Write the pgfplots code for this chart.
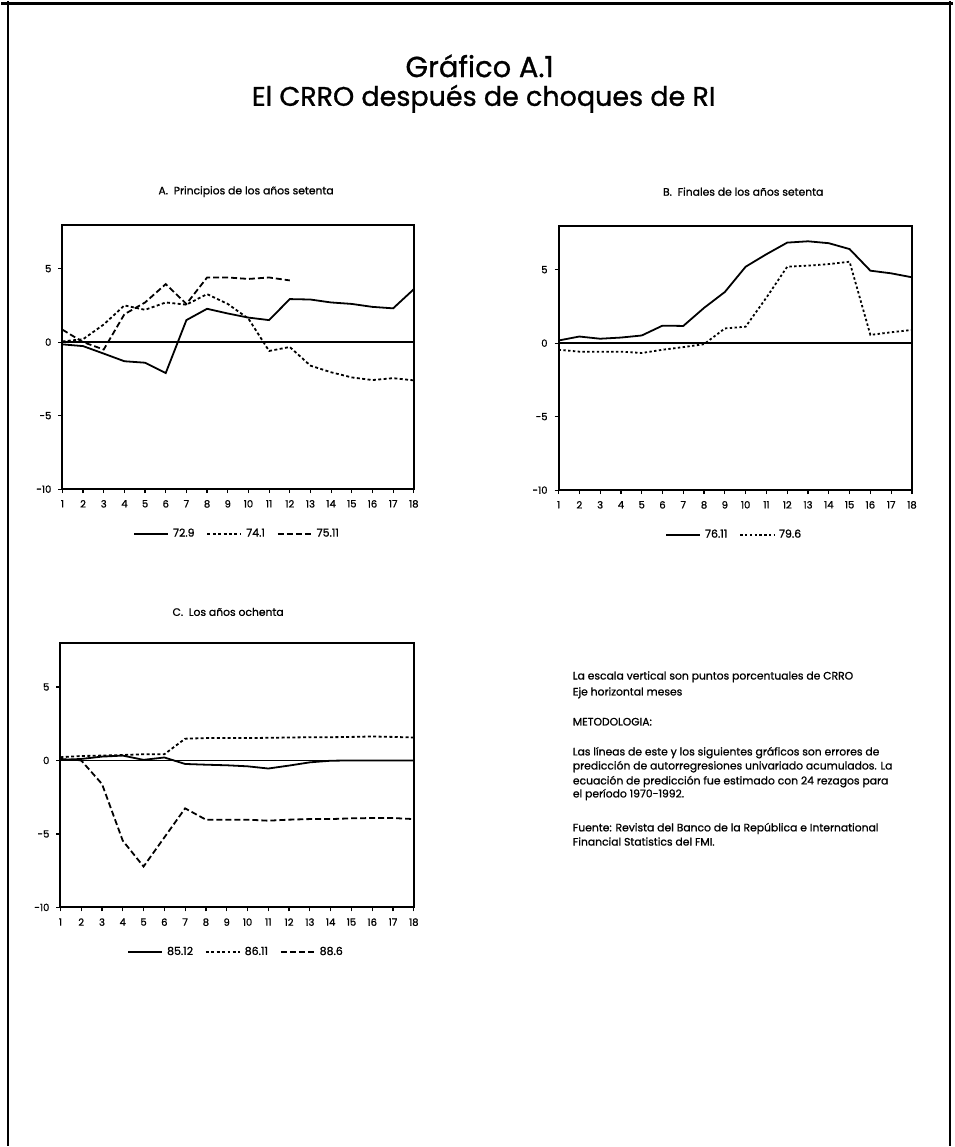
\documentclass[border=0pt]{standalone}
\usepackage{fontspec}
\setmainfont{Poppins}[UprightFeatures={FakeBold=1}]
\usepackage{pgfplots}
\pgfplotsset{compat=1.18}

\pgfplotsset{
  panel/.style={
    scale only axis, width=176bp, height=132.5bp,
    xmin=1, xmax=18, ymin=-10, ymax=8,
    xtick={1,...,18}, ytick={-10,-5,0,5},
    axis line style={line width=1bp},
    tick style={black, line width=0.6bp},
    major tick length=2bp, tick align=outside,
    xtick pos=bottom, ytick pos=left,
    ticklabel style={font=\fontsize{5bp}{6bp}\selectfont},
    /pgf/number format/assume math mode=true,
    every axis plot/.append style={line width=0.9bp, black},
    legend style={draw=none, fill=none, at={(0.5,-0.17)}, anchor=center,
      legend columns=-1, font=\fontsize{5.5bp}{6.5bp}\selectfont,
      /tikz/every even column/.append style={column sep=4bp}},
    legend image code/.code={\draw[#1] (0bp,0bp) -- (17bp,0bp);},
  },
  shortdash/.style={dash pattern=on 1.5bp off 1.2bp},
  longdash/.style={dash pattern=on 3bp off 1.5bp},
  dotted79/.style={dash pattern=on 1.2bp off 1.2bp},
}

\begin{document}
\begin{tikzpicture}[x=0.5bp,y=0.5bp]
\path (0,0) rectangle (953,1147);
\draw[line width=1.5bp] (0,1144) -- (953,1144);
\draw[line width=1bp] (7,1147) -- (7,0);
\draw[line width=1bp] (950,1147) -- (950,0);

\node[font=\fontsize{14.5bp}{16bp}\selectfont] at (479,1082) {Gráfico A.1};
\node[font=\fontsize{13.5bp}{16bp}\selectfont] at (483,1049) {El CRRO después de choques de RI};

\node[font=\fontsize{5.4bp}{6bp}\selectfont] at (245,956) {A.\ \ Principios de los años setenta};
\node[font=\fontsize{5.4bp}{6bp}\selectfont] at (743,956) {B.\ \ Finales de los años setenta};
\node[font=\fontsize{5.4bp}{6bp}\selectfont] at (227,535) {C.\ \ Los años ochenta};

% panel A
\begin{axis}[panel, at={(30.5bp,329bp)}, anchor=south west]
\addplot[forget plot, solid, line width=0.7bp] coordinates {(1,0) (18,0)};
\addplot[solid] coordinates {(1,-0.15) (2,-0.27) (3,-0.78) (4,-1.3) (5,-1.4) (6,-2.1)
  (7,1.5) (8,2.27) (9,1.95) (10,1.67) (11,1.5) (12,2.93) (13,2.9) (14,2.7)
  (15,2.6) (16,2.4) (17,2.3) (18,3.6)};
\addplot[shortdash] coordinates {(1,0.05) (2,0.2) (3,1.2) (4,2.5) (5,2.2) (6,2.7)
  (7,2.55) (8,3.27) (9,2.6) (10,1.6) (11,-0.6) (12,-0.33) (13,-1.6) (14,-2.05)
  (15,-2.4) (16,-2.58) (17,-2.45) (18,-2.6)};
\addplot[longdash] coordinates {(1,0.85) (2,0) (3,-0.5) (4,1.9) (5,2.7) (6,3.95)
  (7,2.6) (8,4.4) (9,4.4) (10,4.3) (11,4.4) (12,4.2)};
\legend{72.9, 74.1, 75.11}
\end{axis}

% panel B
\begin{axis}[panel, width=177bp, at={(279bp,328.5bp)}, anchor=south west]
\addplot[forget plot, solid, line width=0.7bp] coordinates {(1,0) (18,0)};
\addplot[solid] coordinates {(1,0.18) (2,0.45) (3,0.3) (4,0.38) (5,0.52) (6,1.19)
  (7,1.17) (8,2.4) (9,3.48) (10,5.2) (11,6.05) (12,6.84) (13,6.93) (14,6.8)
  (15,6.4) (16,4.93) (17,4.75) (18,4.48)};
\addplot[dotted79] coordinates {(1,-0.45) (2,-0.58) (3,-0.58) (4,-0.58) (5,-0.67)
  (6,-0.45) (7,-0.27) (8,-0.07) (9,1.0) (10,1.12) (11,3.1) (12,5.2) (13,5.27)
  (14,5.38) (15,5.54) (16,0.56) (17,0.74) (18,0.9)};
\legend{76.11, 79.6}
\end{axis}

% panel C
\begin{axis}[panel, width=177bp, at={(29.5bp,119.5bp)}, anchor=south west]
\addplot[forget plot, solid, line width=0.7bp] coordinates {(1,0) (18,0)};
\addplot[solid] coordinates {(1,0.04) (2,0.1) (3,0.26) (4,0.33) (5,0.04) (6,0.2)
  (7,-0.24) (8,-0.29) (9,-0.33) (10,-0.4) (11,-0.55) (12,-0.35) (13,-0.13)
  (14,-0.02) (15,0) (16,0) (17,0) (18,0)};
\addplot[shortdash] coordinates {(1,0.22) (2,0.3) (3,0.33) (4,0.37) (5,0.42)
  (6,0.42) (7,1.48) (8,1.52) (9,1.52) (10,1.52) (11,1.54) (12,1.56) (13,1.58)
  (14,1.58) (15,1.6) (16,1.63) (17,1.6) (18,1.56)};
\addplot[longdash] coordinates {(1,0.1) (2,0) (3,-1.6) (4,-5.46) (5,-7.22)
  (6,-5.24) (7,-3.26) (8,-4.03) (9,-4.03) (10,-4.03) (11,-4.1) (12,-4.03)
  (13,-3.99) (14,-3.99) (15,-3.94) (16,-3.92) (17,-3.92) (18,-3.99)};
\legend{85.12, 86.11, 88.6}
\end{axis}

\begin{scope}[every node/.style={anchor=west, inner sep=0pt,
    font=\fontsize{5.4bp}{6bp}\selectfont}]
\node at (572,470) {La escala vertical son puntos porcentuales de CRRO};
\node at (572,454) {Eje horizontal meses};
\node at (572,425) {METODOLOGIA:};
\node at (572,394) {Las líneas de este y los siguientes gráficos son errores de};
\node at (572,380) {predicción de autorregresiones univariado acumulados. La};
\node at (572,365) {ecuación de predicción fue estimado con 24 rezagos para};
\node at (572,352) {el período 1970-1992.};
\node at (572,318) {Fuente: Revista del Banco de la República e International};
\node at (572,305) {Financial Statistics del FMI.};
\end{scope}
\end{tikzpicture}
\end{document}
